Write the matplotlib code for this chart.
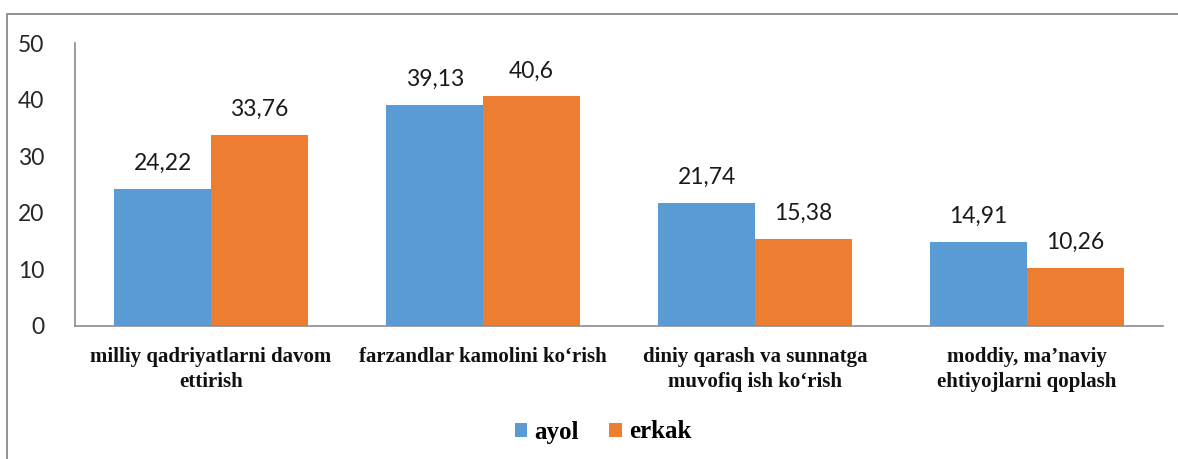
import matplotlib
matplotlib.use("Agg")
import matplotlib.pyplot as plt
from matplotlib.patches import Rectangle
import numpy as np

categories = ["milliy qadriyatlarni davom\nettirish",
              "farzandlar kamolini ko\u2018rish",
              "diniy qarash va sunnatga\nmuvofiq ish ko\u2018rish",
              "moddiy, ma\u2019naviy\nehtiyojlarni qoplash"]
ayol = [24.22, 39.13, 21.74, 14.91]
erkak = [33.76, 40.6, 15.38, 10.26]
ayol_labels = ["24,22", "39,13", "21,74", "14,91"]
erkak_labels = ["33,76", "40,6", "15,38", "10,26"]
yticks = [0, 10, 20, 30, 40, 50]

W, H = 1178, 459
fig = plt.figure(figsize=(W/100, H/100), dpi=100)
ax = fig.add_axes([75/W, 1-326/H, (1163-75)/W, (326-43)/H])

x = np.arange(len(categories))
bw = 0.355
blue = "#5B9BD5"
orange = "#ED7D31"
b1 = ax.bar(x - bw/2, ayol, bw, color=blue, label="ayol")
b2 = ax.bar(x + bw/2, erkak, bw, color=orange, label="erkak")

numfont = "Lato"
for bars, labs in ((b1, ayol_labels), (b2, erkak_labels)):
    for r, lab in zip(bars, labs):
        ax.annotate(lab, (r.get_x() + r.get_width()/2, r.get_height()),
                    xytext=(0, 13.5), textcoords="offset points",
                    ha="center", va="baseline", fontsize=16.5,
                    family=numfont, color="#1a1a1a")

ax.set_xlim(-0.5, len(categories) - 0.5)
ax.set_ylim(0, 50)
ax.set_yticks(yticks)
ax.set_yticklabels([str(v) for v in yticks], family=numfont, fontsize=16.5, color="#262626")
ax.set_xticks(x)
ax.set_xticklabels(categories, family="Liberation Serif", fontweight="bold",
                   fontsize=15, color="#111111", linespacing=1.35)
ax.tick_params(axis="both", length=0)
ax.tick_params(axis="y", pad=22)
ax.tick_params(axis="x", pad=15)
for s in ("top", "right"):
    ax.spines[s].set_visible(False)
for s in ("left", "bottom"):
    ax.spines[s].set_color("#8c8c8c")
    ax.spines[s].set_linewidth(1.2)

leg = fig.legend(handles=[b1, b2], labels=["ayol", "erkak"], loc="center",
                 bbox_to_anchor=(603/W, 1-432/H), ncol=2, frameon=False,
                 prop={"family": "Liberation Serif", "weight": "bold", "size": 18},
                 handlelength=0.5, handleheight=0.5, handletextpad=0.3,
                 columnspacing=1.2)

frame = Rectangle((7/W, -0.1), 1.2, 1 - 14.5/H + 0.1, transform=fig.transFigure,
                  fill=False, edgecolor="#8a8a8a", linewidth=1.3)
fig.patches.append(frame)

fig.savefig("out.png", dpi=100)
